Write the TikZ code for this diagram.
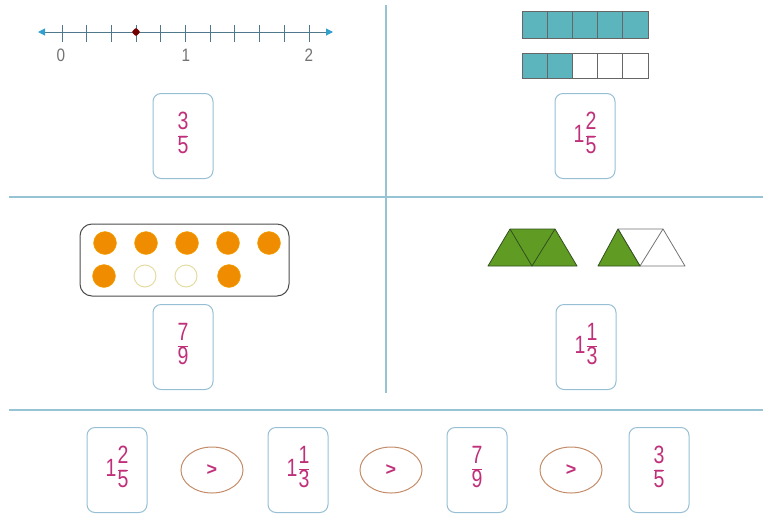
\documentclass[tikz,border=0pt]{standalone}
\usepackage{fontspec}
\setmainfont{Liberation Sans}
\usetikzlibrary{arrows.meta,shapes.geometric}
\definecolor{mag}{RGB}{192,48,122}
\definecolor{boxc}{RGB}{150,190,212}
\definecolor{divc}{RGB}{150,196,212}
\definecolor{tealc}{RGB}{92,180,188}
\definecolor{orng}{RGB}{240,140,0}
\definecolor{paley}{RGB}{228,220,160}
\definecolor{grn}{RGB}{96,156,36}
\definecolor{grnd}{RGB}{50,80,30}
\definecolor{ovalc}{RGB}{196,140,104}
\definecolor{nlc}{RGB}{80,120,140}
\definecolor{arrc}{RGB}{50,160,205}
\newcommand\fr[2]{\scalebox{0.78}[1]{\renewcommand\arraystretch{0.78}\setlength\arrayrulewidth{1.1pt}\begin{tabular}{@{}c@{}}#1\\\hline #2\end{tabular}}}
\newcommand\mixn[3]{\scalebox{0.78}[1]{#1}\kern1pt\fr{#2}{#3}}
\tikzset{
  card/.style={draw=boxc, line width=1pt, rounded corners=8pt, minimum width=60pt, minimum height=85pt, text=mag, font=\fontsize{25}{27}\selectfont, inner sep=0pt},
  cmp/.style={draw=ovalc, line width=1pt, ellipse, minimum width=62pt, minimum height=46pt, text=mag, font=\fontsize{18}{20}\selectfont\bfseries, inner sep=0pt},
  divider/.style={draw=divc, line width=1.3pt},
  cell/.style={draw=black!60, line width=0.8pt},
  dotfull/.style={circle, fill=orng, draw=orng!80!yellow, minimum size=23pt, inner sep=0pt},
  dotempty/.style={circle, draw=paley, line width=1pt, minimum size=22pt, inner sep=0pt},
  tri/.style={draw=grnd, line width=0.8pt, line join=round},
  nllabel/.style={text=black!55, font=\fontsize{18}{19}\selectfont}
}
\begin{document}
\begin{tikzpicture}[x=1pt,y=-1pt]
\useasboundingbox (0,0) rectangle (763,515);
% dividers
\coordinate (vt) at (386,5); \coordinate (vb) at (386,393);
\coordinate (h1l) at (9,197); \coordinate (h1r) at (763,197);
\coordinate (h2l) at (9,410); \coordinate (h2r) at (763,410);
\draw[divider] (vt) -- (vb);
\draw[divider] (h1l) -- (h1r);
\draw[divider] (h2l) -- (h2r);
% number line
\coordinate (nlL) at (38,32); \coordinate (nlR) at (333,32);
\draw[nlc, line width=1pt, {Triangle[length=7pt,width=7pt,color=arrc]}-{Triangle[length=7pt,width=7pt,color=arrc]}] (nlL) -- (nlR);
\foreach \i in {0,...,10} {
  \draw[nlc, line width=1pt] (62+\i*24.7,25) -- (62+\i*24.7,42);
}
\node[nllabel] (l0) at (61,55) {\scalebox{0.85}[1]{0}};
\node[nllabel] (l1) at (186,55) {\scalebox{0.85}[1]{1}};
\node[nllabel] (l2) at (309,55) {\scalebox{0.85}[1]{2}};
\node[diamond, fill=red!45!black, minimum size=9pt, inner sep=0pt, rounded corners=1pt] (pt) at (136,32) {};
% bars
\foreach \i in {0,...,4} {
  \draw[cell, fill=tealc] (522+\i*25.2,11) rectangle (522+\i*25.2+25.2,38);
}
\foreach \i in {0,1} {
  \draw[cell, fill=tealc] (522+\i*25.2,53) rectangle (522+\i*25.2+25.2,78);
}
\foreach \i in {2,3,4} {
  \draw[cell, fill=white] (522+\i*25.2,53) rectangle (522+\i*25.2+25.2,78);
}
% cards top
\node[card] (c1) at (183,136) {\fr{3}{5}};
\node[card] (c2) at (585,136) {\mixn{1}{2}{5}};
% dots box
\draw[black!70, line width=1pt, rounded corners=12pt] (80,224) rectangle (289,296);
\node[dotfull] (d1) at (105,243) {};
\node[dotfull] (d2) at (146,243) {};
\node[dotfull] (d3) at (187,243) {};
\node[dotfull] (d4) at (228,243) {};
\node[dotfull] (d5) at (269,243) {};
\node[dotfull] (d6) at (104,276) {};
\node[dotempty] (d7) at (145,276) {};
\node[dotempty] (d8) at (186,276) {};
\node[dotfull] (d9) at (229,276) {};
% triangles
\draw[tri, fill=grn] (488,266) -- (510,229) -- (555,229) -- (577,266) -- cycle;
\draw[tri] (510,229) -- (532,266) -- (555,229);
\draw[tri, fill=white, draw=black!55] (618,229) -- (663,229) -- (685,266) -- (640,266) -- cycle;
\draw[tri, draw=black!55] (640,266) -- (663,229);
\draw[tri, fill=grn] (598,266) -- (618,229) -- (640,266) -- cycle;
% cards middle
\node[card] (c3) at (183,347) {\fr{7}{9}};
\node[card] (c4) at (586,347) {\mixn{1}{1}{3}};
% bottom row
\node[card] (b1) at (117,470) {\mixn{1}{2}{5}};
\node[cmp] (o1) at (212,470) {>};
\node[card] (b2) at (298,470) {\mixn{1}{1}{3}};
\node[cmp] (o2) at (391,470) {>};
\node[card] (b3) at (477,470) {\fr{7}{9}};
\node[cmp] (o3) at (571,470) {>};
\node[card] (b4) at (659,470) {\fr{3}{5}};
\end{tikzpicture}
\end{document}
